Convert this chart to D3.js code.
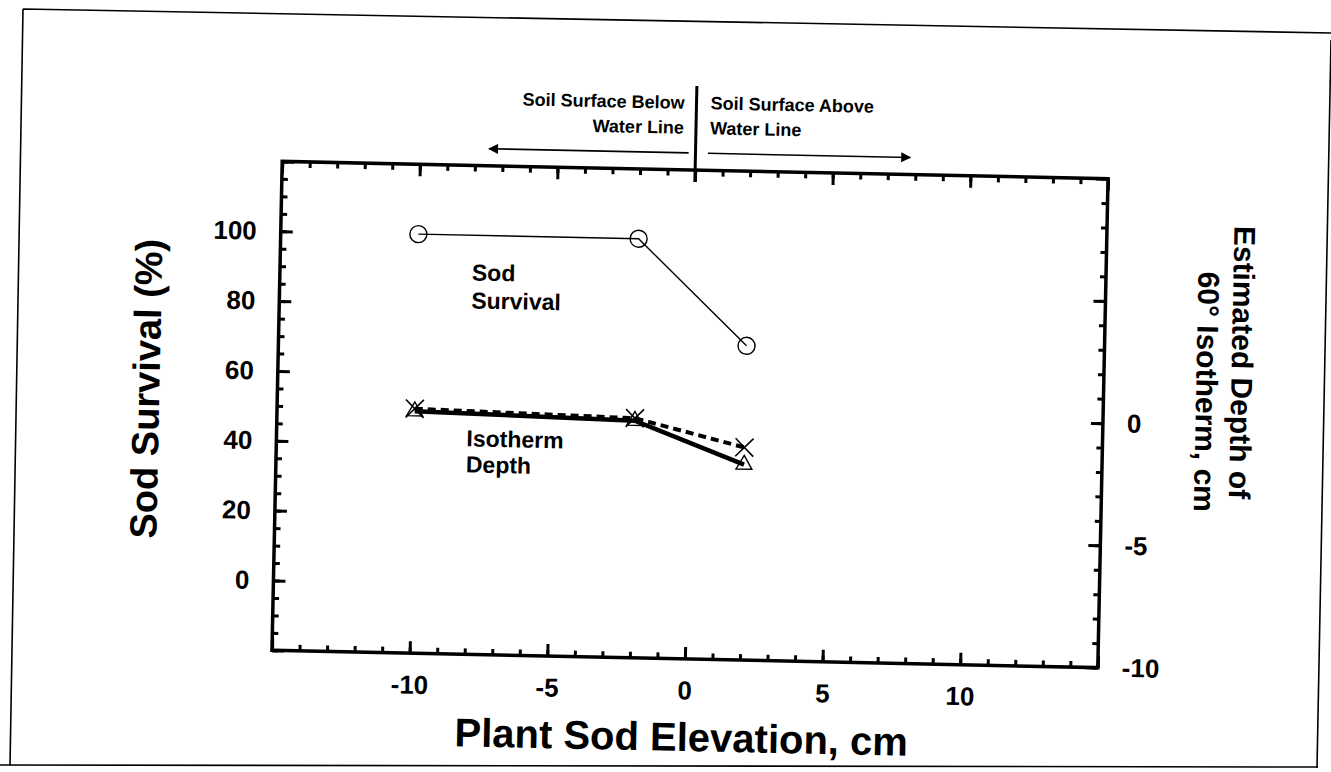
<!DOCTYPE html>
<html>
<head>
<meta charset="utf-8">
<script src="https://cdn.jsdelivr.net/npm/d3@7"></script>
<style>
  body { margin: 0; background: #fff; }
  text { font-family: "Liberation Sans", Arial, Helvetica, sans-serif; font-weight: bold; fill: #000; }
</style>
</head>
<body>
<svg id="chart" width="1331" height="772"></svg>
<script>
// data
var elevation = [-10, -2, 2];
var sodSurvival = [100, 100, 70];
var isothermCross = [0, -0.2, -1.3];     // dashed line, x markers
var isothermTriangle = [-0.1, -0.3, -2.0]; // solid line, open triangles
var xTickLabels = [-10, -5, 0, 5, 10];
var leftTickLabels = [0, 20, 40, 60, 80, 100];
var rightTickLabels = [0, -5, -10];

var plot = {left: 277, right: 1103, top: 170, bottom: 659};
var font = '"Liberation Sans", Arial, Helvetica, sans-serif';

var x = d3.scaleLinear().domain([-15, 15]).range([plot.left, plot.right]);
var yL = d3.scaleLinear().domain([-20, 120]).range([plot.bottom, plot.top]);
var yR = d3.scaleLinear().domain([-10, 10]).range([plot.bottom, plot.top]);

var svg = d3.select("#chart");

// scanned page border
svg.append("path")
  .attr("d", "M23,9 L1331,33 M23,9 L10,766 M0,765 L1318,767 M1331,40 L1317,768")
  .attr("fill", "none").attr("stroke", "#000").attr("stroke-width", 1.6);

// the whole figure is slightly rotated in the scan
var g = svg.append("g").attr("transform", "rotate(1.2,690,415)");

function label(list) {
  return function(d) { return list.indexOf(d) >= 0 ? String(d) : ""; };
}

function styleAxis(sel, size) {
  sel.attr("font-size", size).attr("font-family", font).attr("font-weight", "bold");
  sel.select(".domain").remove();
  sel.selectAll(".tick line").attr("stroke", "#000").attr("stroke-width", 3);
  sel.selectAll(".tick text").attr("fill", "#000");
}

// bottom axis
g.append("g").attr("transform", "translate(0," + plot.bottom + ")")
  .call(d3.axisBottom(x).tickValues(d3.range(-15, 16, 1)).tickSize(-6).tickFormat(""))
  .call(styleAxis, 26);
g.append("g").attr("transform", "translate(0," + plot.bottom + ")")
  .call(d3.axisBottom(x).tickValues(d3.range(-15, 16, 5)).tickSize(-12).tickPadding(22).tickFormat(label(xTickLabels)))
  .call(styleAxis, 26);

// top axis
g.append("g").attr("transform", "translate(0," + plot.top + ")")
  .call(d3.axisTop(x).tickValues(d3.range(-15, 16, 1)).tickSize(-6).tickFormat(""))
  .call(styleAxis, 26);
g.append("g").attr("transform", "translate(0," + plot.top + ")")
  .call(d3.axisTop(x).tickValues(d3.range(-15, 16, 5)).tickSize(-12).tickFormat(""))
  .call(styleAxis, 26);

// left axis
g.append("g").attr("transform", "translate(" + plot.left + ",0)")
  .call(d3.axisLeft(yL).tickValues(d3.range(-20, 121, 5)).tickSize(-6).tickFormat(""))
  .call(styleAxis, 26);
g.append("g").attr("transform", "translate(" + plot.left + ",0)")
  .call(d3.axisLeft(yL).tickValues(d3.range(-20, 121, 20)).tickSize(-12).tickPadding(24).tickFormat(label(leftTickLabels)))
  .call(styleAxis, 26);

// right axis
g.append("g").attr("transform", "translate(" + plot.right + ",0)")
  .call(d3.axisRight(yR).tickValues(d3.range(-10, 11, 1)).tickSize(-6).tickFormat(""))
  .call(styleAxis, 26);
g.append("g").attr("transform", "translate(" + plot.right + ",0)")
  .call(d3.axisRight(yR).tickValues(d3.range(-10, 11, 5)).tickSize(-12).tickPadding(24).tickFormat(label(rightTickLabels)))
  .call(styleAxis, 26);

// plot frame
g.append("rect")
  .attr("x", plot.left).attr("y", plot.top)
  .attr("width", plot.right - plot.left).attr("height", plot.bottom - plot.top)
  .attr("fill", "none").attr("stroke", "#000").attr("stroke-width", 3.5);

// axis titles
g.append("text")
  .attr("transform", "translate(146,400) rotate(-90)")
  .attr("text-anchor", "middle").attr("dominant-baseline", "central")
  .attr("font-size", 38).text("Sod Survival (%)");

g.append("text")
  .attr("x", 688).attr("y", 751)
  .attr("text-anchor", "middle")
  .attr("font-size", 40).text("Plant Sod Elevation, cm");

g.append("text")
  .attr("transform", "translate(1241,351) rotate(90)")
  .attr("text-anchor", "middle").attr("dominant-baseline", "central")
  .attr("font-size", 30).text("Estimated Depth of");
g.append("text")
  .attr("transform", "translate(1206,381) rotate(90)")
  .attr("text-anchor", "middle").attr("dominant-baseline", "central")
  .attr("font-size", 30).text("60\u00B0 Isotherm, cm");

// water line annotation
g.append("defs").append("marker")
  .attr("id", "head").attr("viewBox", "0 0 10 10")
  .attr("refX", 9).attr("refY", 5)
  .attr("markerWidth", 16).attr("markerHeight", 10)
  .attr("markerUnits", "userSpaceOnUse").attr("orient", "auto")
  .append("path").attr("d", "M0,0 L10,5 L0,10 Z").attr("fill", "#000");

g.append("line")
  .attr("x1", x(0)).attr("x2", x(0)).attr("y1", 86).attr("y2", plot.top + 12)
  .attr("stroke", "#000").attr("stroke-width", 3);
g.append("line")
  .attr("x1", x(-0.25)).attr("x2", x(-7.5)).attr("y1", 153).attr("y2", 153)
  .attr("stroke", "#000").attr("stroke-width", 1.6).attr("marker-end", "url(#head)");
g.append("line")
  .attr("x1", x(0.45)).attr("x2", x(7.8)).attr("y1", 153).attr("y2", 153)
  .attr("stroke", "#000").attr("stroke-width", 1.6).attr("marker-end", "url(#head)");

var note = g.append("g").attr("font-size", 18);
note.append("text").attr("x", x(0) - 12).attr("y", 109).attr("text-anchor", "end").text("Soil Surface Below");
note.append("text").attr("x", x(0) - 12).attr("y", 134).attr("text-anchor", "end").text("Water Line");
note.append("text").attr("x", x(0) + 14).attr("y", 109).text("Soil Surface Above");
note.append("text").attr("x", x(0) + 14).attr("y", 134).text("Water Line");

// series labels
var lab = g.append("g").attr("font-size", 23);
lab.append("text").attr("x", 469).attr("y", 285).text("Sod");
lab.append("text").attr("x", 469).attr("y", 313).text("Survival");
lab.append("text").attr("x", 467).attr("y", 451).text("Isotherm");
lab.append("text").attr("x", 467).attr("y", 477).text("Depth");

// sod survival
var survival = elevation.map(function(e, i) { return {x: e, y: sodSurvival[i]}; });
g.append("path").datum(survival)
  .attr("d", d3.line().x(function(d) { return x(d.x); }).y(function(d) { return yL(d.y); }))
  .attr("fill", "none").attr("stroke", "#000").attr("stroke-width", 1.4);
g.selectAll(".survival").data(survival).enter().append("circle")
  .attr("cx", function(d) { return x(d.x); }).attr("cy", function(d) { return yL(d.y); })
  .attr("r", 8.5).attr("fill", "none").attr("stroke", "#000").attr("stroke-width", 1.4);

// isotherm depth
var tri = elevation.map(function(e, i) { return {x: e, y: isothermTriangle[i]}; });
var cross = elevation.map(function(e, i) { return {x: e, y: isothermCross[i]}; });
var lineR = d3.line().x(function(d) { return x(d.x); }).y(function(d) { return yR(d.y); });

g.append("path").datum(cross).attr("d", lineR)
  .attr("fill", "none").attr("stroke", "#000").attr("stroke-width", 4)
  .attr("stroke-dasharray", "8,5");
g.append("path").datum(tri).attr("d", lineR)
  .attr("fill", "none").attr("stroke", "#000").attr("stroke-width", 4.5);

g.selectAll(".tri").data(tri).enter().append("path")
  .attr("transform", function(d) { return "translate(" + x(d.x) + "," + yR(d.y) + ")"; })
  .attr("d", d3.symbol(d3.symbolTriangle, 110))
  .attr("fill", "none").attr("stroke", "#000").attr("stroke-width", 1.4);
g.selectAll(".cross").data(cross).enter().append("path")
  .attr("transform", function(d) { return "translate(" + x(d.x) + "," + yR(d.y) + ")"; })
  .attr("d", "M-9,-9L9,9M-9,9L9,-9")
  .attr("fill", "none").attr("stroke", "#000").attr("stroke-width", 1.6);
</script>
</body>
</html>
